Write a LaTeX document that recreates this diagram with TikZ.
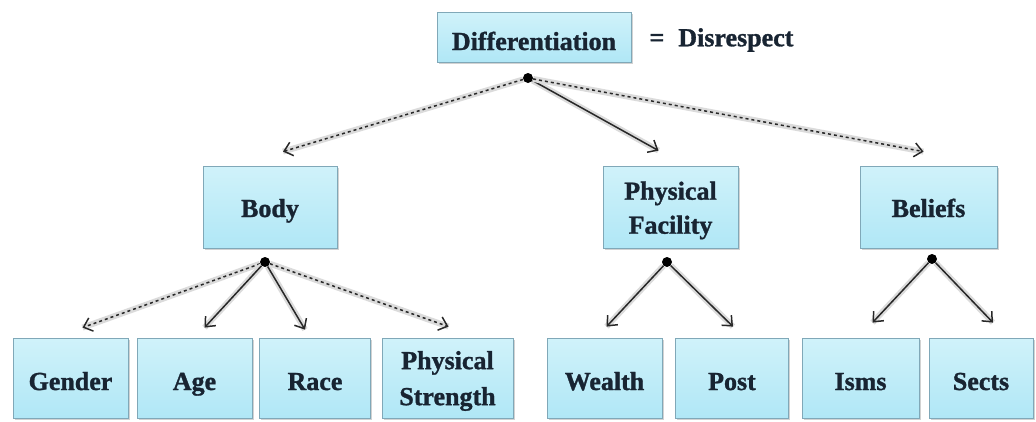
\documentclass[tikz,border=0pt]{standalone}
\usepackage{fontspec}
\setmainfont{Liberation Serif}[BoldFeatures={FakeBold=1.2}]
\usetikzlibrary{arrows.meta,shadows}

\definecolor{boxtop}{RGB}{208,242,250}
\definecolor{boxbottom}{RGB}{176,231,246}
\definecolor{boxline}{RGB}{128,168,184}
\definecolor{labeltext}{RGB}{24,36,50}
\definecolor{linkgray}{RGB}{40,40,40}

\begin{document}
\begin{tikzpicture}[x=1pt,y=-1pt,
    box/.style={draw=boxline, line width=0.8pt, top color=boxtop, bottom color=boxbottom,
      drop shadow={shadow xshift=1.5pt,shadow yshift=-1.8pt,fill=black!35},
      minimum height=80pt, minimum width=115pt, inner sep=2pt, align=center,
      font=\bfseries\fontsize{26}{36}\selectfont, text=labeltext},
    oneline/.style={text height=#1, text depth=2pt},
    hub/.style={circle, fill=black, inner sep=0pt, minimum size=10pt},
    link/.style={draw=linkgray, line width=1.5pt, -{Straight Barb[length=8pt,width=14pt]},
      preaction={draw=black!14, line width=6pt, solid, -}},
    dashlink/.style={link, dashed}]
    \useasboundingbox (0,0) rectangle (1036,421);

    % Top of the tree
    \node[box, oneline=28pt, minimum width=194pt, minimum height=50pt] (diff) at (534,37) {Differentiation};
    \node[anchor=west, font=\bfseries\fontsize{26}{36}\selectfont, text=labeltext] (disr) at (646,40) {=\hspace{14pt}Disrespect};

    % Middle level
    \node[box, oneline=22pt, minimum width=134pt, minimum height=82pt] (body) at (270,207) {Body};
    \node[box, minimum width=135pt, minimum height=82pt] (facility) at (670.5,207) {\rule{0pt}{25pt}Physical\\[-2pt]Facility};
    \node[box, oneline=22pt, minimum width=137pt, minimum height=82pt] (beliefs) at (928.5,207) {Beliefs};

    % Bottom level
    \node[box, oneline=26pt] (gender) at (70.5,378) {Gender};
    \node[box, oneline=26pt] (age) at (194.5,378) {Age};
    \node[box, oneline=26pt, minimum width=111pt] (race) at (315,378) {Race};
    \node[box, minimum width=131pt] (strength) at (447.5,378) {\rule{0pt}{24pt}Physical\\Strength};
    \node[box, oneline=26pt] (wealth) at (604.5,378) {Wealth};
    \node[box, oneline=26pt, minimum width=113pt] (post) at (732,378) {Post};
    \node[box, oneline=26pt, minimum width=117pt] (isms) at (860.5,378) {Isms};
    \node[box, oneline=26pt, minimum width=104pt] (sects) at (981,378) {Sects};

    % Branch points
    \node[hub] (dtop) at (528,78) {};
    \node[hub] (dbody) at (265,262) {};
    \node[hub] (dfac) at (667,262) {};
    \node[hub] (dbel) at (932,259) {};

    % Connectors
    \draw[dashlink] (dtop) -- ([xshift=13pt,yshift=14pt]body.north);
    \draw[link] (dtop) -- ([xshift=-12pt,yshift=15pt]facility.north);
    \draw[dashlink] (dtop) -- ([xshift=-5pt,yshift=14pt]beliefs.north);

    \draw[dashlink] (dbody) -- ([xshift=12pt,yshift=10pt]gender.north);
    \draw[link] (dbody) -- ([xshift=10pt,yshift=10pt]age.north);
    \draw[link] (dbody) -- ([xshift=-10pt,yshift=8pt]race.north);
    \draw[dashlink] (dbody) -- ([xshift=1pt,yshift=11pt]strength.north);

    \draw[link] (dfac) -- ([xshift=2pt,yshift=11pt]wealth.north);
    \draw[link] (dfac) -- ([xshift=1pt,yshift=11pt]post.north);

    \draw[link] (dbel) -- ([xshift=12pt,yshift=15pt]isms.north);
    \draw[link] (dbel) -- ([xshift=12pt,yshift=15pt]sects.north);
\end{tikzpicture}
\end{document}
